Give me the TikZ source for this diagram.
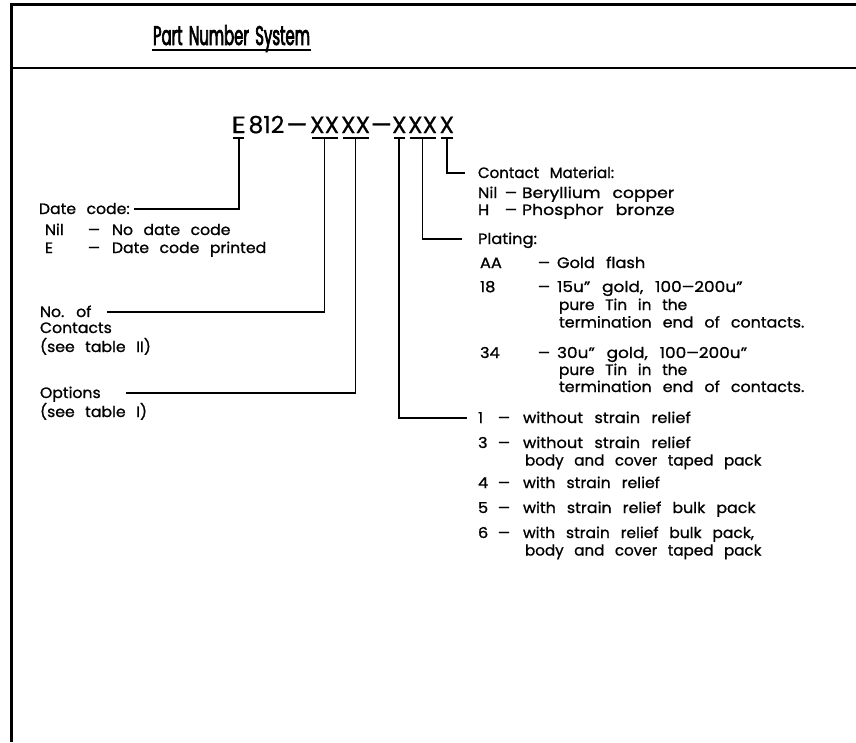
\documentclass[tikz,border=0pt]{standalone}
\usepackage{fontspec}
\setmainfont{Poppins}[WordSpace=2.6,FakeStretch=1.08,FakeBold=1]
\newfontfamily\leftfont{Poppins}[WordSpace=2.5,FakeStretch=1.045,FakeBold=1]
\newfontfamily\pnfont{Poppins}[FakeBold=0.6]
\newfontfamily\titlefont{Poppins}[FakeStretch=0.55,FakeBold=2.5,WordSpace=1.6]
\newcommand\dsh{\resizebox{12pt}{\height}{—}}
\newcommand\sx[2]{\scalebox{#1}[1]{#2}}
\usetikzlibrary{calc}
\begin{document}
\begin{tikzpicture}[x=1pt,y=-1pt,line width=1.8pt,
  txt/.style={inner sep=0pt,outer sep=0pt,anchor=base west,font=\fontsize{15}{17}\selectfont},
  ltxt/.style={txt,font=\leftfont\fontsize{15}{17}\selectfont},
  pn/.style={inner sep=0pt,outer sep=0pt,anchor=base west,font=\pnfont\fontsize{23.5}{26}\selectfont},
  frame/.style={line width=2.4pt},
  conn/.style={line width=1.8pt}]
\useasboundingbox (0,0) rectangle (856,742);
% frame
\draw[frame] (856,4.5) -- (11.5,4.5) -- (11.5,742);
\draw[frame] (11.5,68) -- (856,68);
% title
\node[anchor=base,inner sep=0pt,font=\titlefont\fontsize{27}{30}\selectfont] (title) at (231.5,45) {Part Number System};
\draw[line width=2pt] ([yshift=-5pt]title.base west) -- ([yshift=-5pt]title.base east);
% part number
\node[pn] (pE) at (231.5,133) {\sx{1.2}{E}};
\node[pn] (p812) at (248.5,133) {812};
\node[pn] (pd1) at (286.5,133) {—};
\node[pn] (pA) at (310,133) {XX};
\node[pn] (pB) at (341,133) {XX};
\node[pn] (pd) at (371,133) {—};
\node[pn] (pC) at (392,133) {X};
\node[pn] (pD) at (408,133) {XX};
\node[pn] (pF) at (439.5,133) {X};
\foreach \n in {pE,pA,pB,pC,pD,pF}{
  \draw[conn] ([xshift=1.5pt,yshift=-5pt]\n.base west) -- ([xshift=-1.5pt,yshift=-5pt]\n.base east);
  \coordinate (u\n) at ([yshift=-5pt]\n.base);
}
% left texts
\node[ltxt] (datecode) at (39,214) {Date code:};
\node[ltxt] (dnil) at (45,235) {Nil};
\node[ltxt] (dnild) at (88,235) {\dsh};
\node[ltxt] (dnilt) at (112,235) {No date code};
\node[ltxt] (de) at (45,253) {E};
\node[ltxt] (ded) at (88,253) {\dsh};
\node[ltxt] (det) at (112,253) {Date code printed};
\node[ltxt] (noof) at (40,317) {No. of};
\node[ltxt] (contacts) at (40,333) {Contacts};
\node[ltxt] (seeII) at (40,352) {(see table II)};
\node[ltxt] (options) at (40,398) {Options};
\node[ltxt] (seeI) at (40,417) {(see table I)};
% right texts
\node[txt] (cm) at (478,178) {\sx{0.93}{Contact Material:}};
\node[txt] (cnil) at (478,198) {Nil};
\node[txt] (cnild) at (505,198) {\dsh};
\node[txt] (cnilt) at (522,198) {\sx{1.06}{Beryllium copper}};
\node[txt] (ch) at (478,215) {H};
\node[txt] (chd) at (505,215) {\dsh};
\node[txt] (cht) at (522,215) {\sx{1.07}{Phosphor bronze}};
\node[txt] (plating) at (478,244) {Plating:};
\node[txt] (paa) at (480,268) {AA};
\node[txt] (paad) at (538,268) {\dsh};
\node[txt] (paat) at (557,268) {Gold flash};
\node[txt] (p18) at (480,292) {18};
\node[txt] (p18d) at (538,292) {\dsh};
\node[txt] (p18t) at (557,292) {\sx{1.045}{15u” gold, 100\dsh200u”}};
\node[txt] (p18b) at (559,310) {\sx{0.95}{pure Tin in the}};
\node[txt] (p18c) at (559,327.5) {\sx{0.98}{termination end of contacts.}};
\node[txt] (p34) at (480,358) {34};
\node[txt] (p34d) at (538,358) {\dsh};
\node[txt] (p34t) at (557,358) {\sx{1.045}{30u” gold, 100\dsh200u”}};
\node[txt] (p34b) at (559,375) {\sx{0.95}{pure Tin in the}};
\node[txt] (p34c) at (559,392) {\sx{0.98}{termination end of contacts.}};
\node[txt] (o1) at (478,423) {1};
\node[txt] (o1d) at (498,423) {\dsh};
\node[txt] (o1t) at (523,423) {without strain relief};
\node[txt] (o3) at (478,448) {3};
\node[txt] (o3d) at (498,448) {\dsh};
\node[txt] (o3t) at (523,448) {without strain relief};
\node[txt] (o3b) at (525,465.5) {\sx{0.935}{body and cover taped pack}};
\node[txt] (o4) at (478,488) {4};
\node[txt] (o4d) at (498,488) {\dsh};
\node[txt] (o4t) at (523,488) {\sx{0.97}{with strain relief}};
\node[txt] (o5) at (478,513) {5};
\node[txt] (o5d) at (498,513) {\dsh};
\node[txt] (o5t) at (523,513) {\sx{0.98}{with strain relief bulk pack}};
\node[txt] (o6) at (478,538) {6};
\node[txt] (o6d) at (498,538) {\dsh};
\node[txt] (o6t) at (523,538) {\sx{0.96}{with strain relief bulk pack,}};
\node[txt] (o6b) at (525,555.5) {\sx{0.935}{body and cover taped pack}};
% connectors
\draw[conn] (upE) |- ([xshift=4pt,yshift=5pt]datecode.base east);
\draw[conn] (upA) |- ([xshift=16pt,yshift=5pt]noof.base east);
\draw[conn] (upB) |- ([xshift=25pt,yshift=5pt]options.base east);
\draw[conn] (upF) |- ([xshift=-13pt,yshift=5pt]cm.base west);
\draw[conn] (upD) |- ([xshift=-16pt,yshift=5pt]plating.base west);
\draw[conn] (upC) |- ([xshift=-11pt,yshift=5pt]o1.base west);
\end{tikzpicture}
\end{document}
